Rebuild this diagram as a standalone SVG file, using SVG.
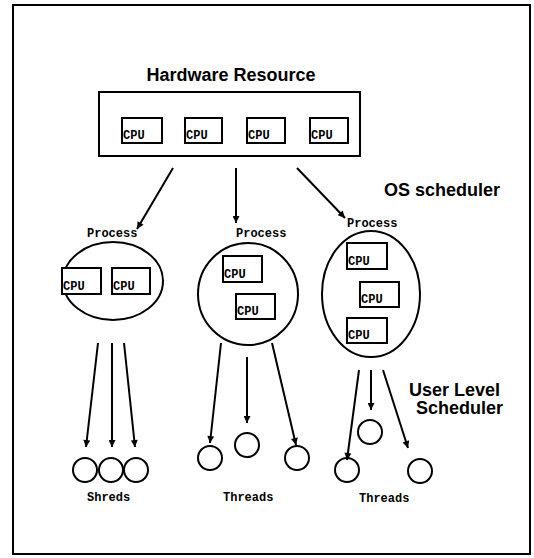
<svg xmlns="http://www.w3.org/2000/svg" width="534" height="558" viewBox="0 0 534 558">
<defs>
<marker id="ah" viewBox="0 0 10 10" refX="10" refY="5" markerWidth="11" markerHeight="7" markerUnits="userSpaceOnUse" orient="auto">
<path d="M0,0 L10,5 L0,10 Z" fill="#000"/>
</marker>
<style>
.box{fill:#fff;stroke:#000;stroke-width:2}
.cpu{fill:#fff;stroke:#000;stroke-width:2}
.ct{font-family:"Liberation Mono",monospace;font-weight:bold;font-size:12px;fill:#000}
.lab{font-family:"Liberation Mono",monospace;font-weight:bold;font-size:12px;fill:#000}
.hd{font-family:"Liberation Sans",Arial,sans-serif;font-weight:bold;font-size:18px;fill:#000}
.ell{fill:#fff;stroke:#000;stroke-width:2}
.th{fill:#fff;stroke:#000;stroke-width:2}
.ar{stroke:#000;stroke-width:2;fill:none;marker-end:url(#ah)}
</style>
</defs>
<rect width="534" height="558" fill="#fff"/>
<rect x="13" y="5" width="517" height="549" fill="none" stroke="#000" stroke-width="2"/>

<g id="hardware">
<text class="hd" x="231" y="81" text-anchor="middle">Hardware Resource</text>
<rect class="box" x="99" y="92" width="261" height="64"/>
<rect class="cpu" x="122" y="118" width="40" height="25"/><text class="ct" x="123" y="139">CPU</text>
<rect class="cpu" x="185" y="118" width="37" height="25"/><text class="ct" x="186" y="139">CPU</text>
<rect class="cpu" x="247" y="118" width="38" height="25"/><text class="ct" x="248" y="139">CPU</text>
<rect class="cpu" x="310" y="118" width="38" height="25"/><text class="ct" x="311" y="139">CPU</text>
</g>

<text class="hd" x="384" y="196">OS scheduler</text>

<g id="process1">
<text class="lab" x="87" y="237">Process</text>
<ellipse class="ell" cx="113" cy="281" rx="50" ry="39"/>
<rect class="cpu" x="62" y="268" width="39" height="26"/><text class="ct" x="63" y="290">CPU</text>
<rect class="cpu" x="112" y="268" width="38" height="26"/><text class="ct" x="113" y="290">CPU</text>
</g>

<g id="process2">
<text class="lab" x="236" y="237">Process</text>
<ellipse class="ell" cx="248" cy="294" rx="50" ry="51"/>
<rect class="cpu" x="223" y="256" width="39" height="26"/><text class="ct" x="224" y="278">CPU</text>
<rect class="cpu" x="236" y="294" width="39" height="25"/><text class="ct" x="237" y="315">CPU</text>
</g>

<g id="process3">
<text class="lab" x="347" y="227">Process</text>
<ellipse class="ell" cx="371" cy="294" rx="49" ry="63"/>
<rect class="cpu" x="347" y="243" width="40" height="26"/><text class="ct" x="348" y="265">CPU</text>
<rect class="cpu" x="360" y="282" width="39" height="25"/><text class="ct" x="361" y="303">CPU</text>
<rect class="cpu" x="347" y="318" width="40" height="25"/><text class="ct" x="348" y="339">CPU</text>
</g>

<text class="hd" x="500" y="396" text-anchor="end">User Level</text>
<text class="hd" x="503" y="414" text-anchor="end">Scheduler</text>

<g id="shreds">
<circle class="th" cx="85" cy="470" r="12"/>
<circle class="th" cx="111" cy="470" r="12"/>
<circle class="th" cx="136" cy="470" r="12"/>
<text class="lab" x="87" y="501">Shreds</text>
</g>

<g id="threads2">
<circle class="th" cx="210" cy="458" r="12"/>
<circle class="th" cx="247" cy="445" r="12"/>
<circle class="th" cx="297" cy="458" r="12"/>
<text class="lab" x="223" y="501">Threads</text>
</g>

<g id="threads3">
<circle class="th" cx="347" cy="470" r="12"/>
<circle class="th" cx="370" cy="432" r="12"/>
<circle class="th" cx="420" cy="471" r="12"/>
<text class="lab" x="359" y="502">Threads</text>
</g>

<g id="connectors">
<line class="ar" x1="173" y1="168" x2="137" y2="229"/>
<line class="ar" x1="236" y1="168" x2="236" y2="223"/>
<line class="ar" x1="297" y1="168" x2="345" y2="218"/>
<line class="ar" x1="98" y1="343" x2="86" y2="447"/>
<line class="ar" x1="112" y1="343" x2="112" y2="447"/>
<line class="ar" x1="124" y1="343" x2="135" y2="447"/>
<line class="ar" x1="221" y1="343" x2="210" y2="443"/>
<line class="ar" x1="247" y1="357" x2="247" y2="423"/>
<line class="ar" x1="272" y1="343" x2="296" y2="445"/>
<line class="ar" x1="359" y1="370" x2="347" y2="460"/>
<line class="ar" x1="371" y1="370" x2="371" y2="410"/>
<line class="ar" x1="383" y1="370" x2="408" y2="448"/>
</g>
</svg>
